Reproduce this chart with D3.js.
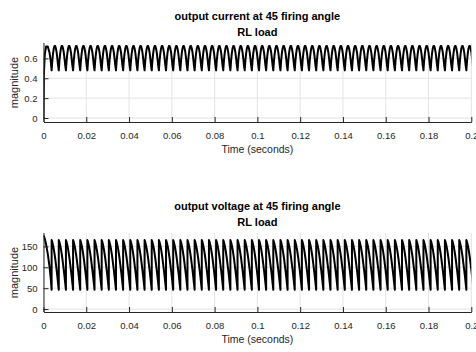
<!DOCTYPE html>
<html>
<head>
<meta charset="utf-8">
<script src="https://cdn.jsdelivr.net/npm/d3@7"></script>
<style>
  body { margin: 0; background: #fff; }
  svg { display: block; font-family: "Liberation Sans", Arial, sans-serif; }
</style>
</head>
<body>
<div id="chart"></div>
<script>
const w = 476, h = 352;

const timeTicks = [0, 0.02, 0.04, 0.06, 0.08, 0.1, 0.12, 0.14, 0.16, 0.18, 0.2];
const currentTicks = [0, 0.2, 0.4, 0.6];
const voltageTicks = [0, 50, 100, 150];

// start-up part before the first regular firing (seconds / values)
const startTime = [0, 0.0002, 0.0006, 0.0012, 0.002, 0.0028, 0.0034, 0.0038];
const currentStart = [0, 0.45, 0.64, 0.72, 0.72, 0.66, 0.57, 0.48];
const voltageStart = [176, 174, 168, 155, 132, 102, 72, 46];

// firing pulses: new output segment every ~3.34 ms
const pulseCount = 60;
const firstPulse = 0.0038;
const pulsePeriod = 0.003343;

// one ripple segment (fraction of segment -> value)
const segPhase = [0, 0.1, 0.2, 0.3, 0.4, 0.5, 0.6, 0.7, 0.8, 0.9, 1];
const currentSeg = [0.48, 0.58, 0.65, 0.70, 0.725, 0.725, 0.70, 0.66, 0.60, 0.53, 0.48];
const voltageSeg = [165, 160, 153, 144, 133, 121, 107, 93, 78, 62, 46];

const svg = d3.select("#chart")
  .append("svg")
  .attr("width", w)
  .attr("height", h);

const x = d3.scaleLinear().domain([0, 0.2]).range([43.5, 471.3]);

// repeat the read segment for every pulse
const buildSeries = (startVals, segVals) => {
  const pts = startTime.map((t, i) => [t, startVals[i]]);
  for (let k = 0; k < pulseCount; k++) {
    const t0 = firstPulse + k * pulsePeriod;
    segPhase.forEach((p, j) => pts.push([t0 + p * pulsePeriod, segVals[j]]));
  }
  return pts;
};

const makePanel = (top, titleName, series, yDomain, yTicks) => {
  const bottom = top + 79;
  const y = d3.scaleLinear().domain(yDomain).range([bottom, top]);
  const g = svg.append("g");
  const id = "clip" + top;
  const midX = (x.range()[0] + x.range()[1]) / 2;

  g.append("clipPath").attr("id", id)
    .append("rect")
    .attr("x", x.range()[0]).attr("y", top)
    .attr("width", x.range()[1] - x.range()[0]).attr("height", bottom - top);

  // grid
  g.append("g").selectAll("line").data(timeTicks).enter().append("line")
    .attr("x1", d => x(d)).attr("x2", d => x(d))
    .attr("y1", top).attr("y2", bottom)
    .attr("stroke", "#e3e3e3");
  g.append("g").selectAll("line").data(yTicks).enter().append("line")
    .attr("x1", x.range()[0]).attr("x2", x.range()[1])
    .attr("y1", d => y(d)).attr("y2", d => y(d))
    .attr("stroke", "#e3e3e3");

  const line = d3.line().x(d => x(d[0])).y(d => y(d[1]));
  g.append("path")
    .datum(series)
    .attr("clip-path", "url(#" + id + ")")
    .attr("d", line)
    .attr("fill", "none")
    .attr("stroke", "#000")
    .attr("stroke-width", 2)
    .attr("stroke-linejoin", "round");

  const xAxis = d3.axisBottom(x)
    .tickValues(timeTicks)
    .tickSizeInner(-5)
    .tickSizeOuter(0)
    .tickPadding(10.5)
    .tickFormat(d => d);
  const yAxis = d3.axisLeft(y)
    .tickValues(yTicks)
    .tickSizeInner(-5)
    .tickSizeOuter(0)
    .tickPadding(6)
    .tickFormat(d => d);

  const ax = g.append("g").attr("transform", "translate(0," + bottom + ")").call(xAxis);
  const ay = g.append("g").attr("transform", "translate(" + x.range()[0] + ",0)").call(yAxis);
  [ax, ay].forEach(a => {
    a.select(".domain").attr("stroke", "#262626");
    a.selectAll(".tick line").attr("stroke", "#262626");
    a.selectAll("text").attr("fill", "#262626").attr("font-size", 9.5).attr("font-family", null);
  });
  // y axis line covers the full height
  ay.select(".domain").attr("d", "M0.5," + top + "V" + bottom);

  g.append("text")
    .text("Time (seconds)")
    .attr("x", midX)
    .attr("y", bottom + 31)
    .attr("text-anchor", "middle")
    .attr("font-size", 10.5)
    .attr("fill", "#262626");

  g.append("text")
    .text("magnitude")
    .attr("transform", "translate(18," + ((top + bottom) / 2) + ") rotate(-90)")
    .attr("text-anchor", "middle")
    .attr("font-size", 11)
    .attr("fill", "#262626");

  const title = g.append("text")
    .attr("text-anchor", "middle")
    .attr("font-size", 11)
    .attr("font-weight", "bold")
    .attr("fill", "#000");
  title.append("tspan").attr("x", midX).attr("y", top - 23.5).text(titleName);
  title.append("tspan").attr("x", midX).attr("y", top - 7.5).text("RL load");
}

makePanel(43, "output current at 45 firing angle", buildSeries(currentStart, currentSeg), [-0.04, 0.755], currentTicks);
makePanel(233, "output voltage at 45 firing angle", buildSeries(voltageStart, voltageSeg), [-7, 182], voltageTicks);
</script>
</body>
</html>
